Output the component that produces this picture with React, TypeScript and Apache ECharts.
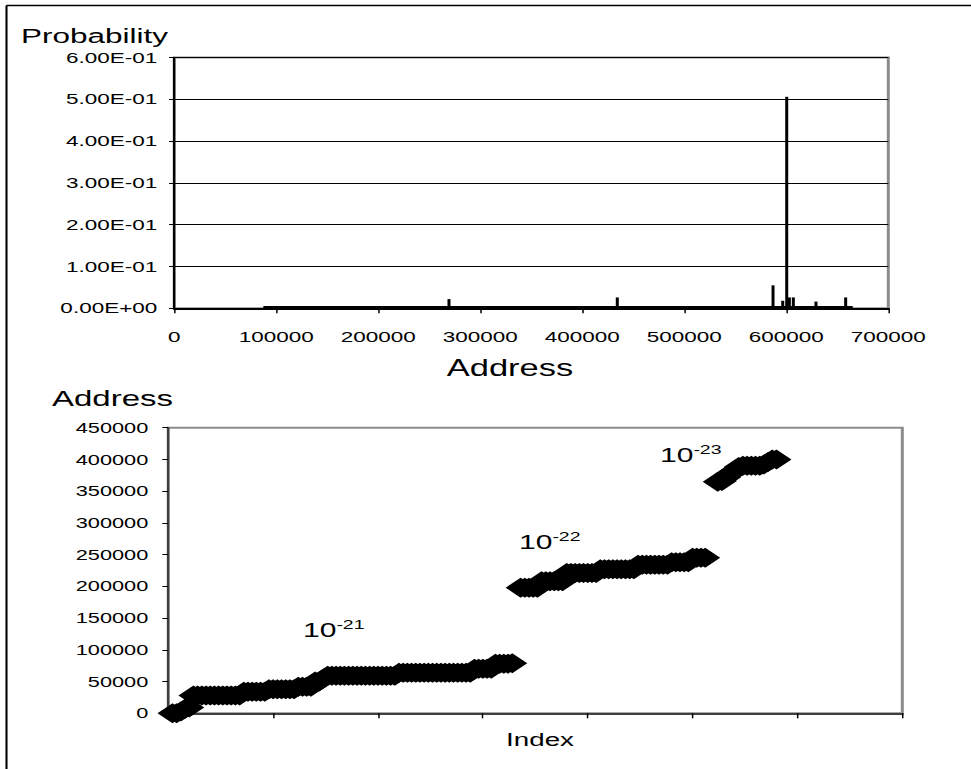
import React, { useEffect, useRef } from "react";
import * as echarts from "echarts";

// ---------- data ----------
const probTickLabels = ["0.00E+00", "1.00E-01", "2.00E-01", "3.00E-01", "4.00E-01", "5.00E-01", "6.00E-01"];
const spikeAddresses = [269300, 421600, 434300, 519000, 580800, 587000, 590600, 596500, 600400, 603000, 606900, 629100, 645100, 658200];
const spikeProbabilities = [0.022, 0.003, 0.026, 0.004, 0.004, 0.055, 0.003, 0.018, 0.506, 0.026, 0.026, 0.016, 0.004, 0.026];
const baselineAddresses = [87300, 665100];
const baselineProbabilities = [0.002, 0.002];

const cluster21Index = [
  4, 8, 12, 16, 20, 24, 28, 32, 36, 40, 44, 48, 52, 56, 60, 64, 68,
  72, 76, 80, 84, 88, 92, 96, 100, 104, 108, 112, 116, 120,
  124, 128, 132, 136, 140, 144, 148,
  152, 156, 160, 164, 168, 172, 176, 180, 184, 188, 192, 196, 200, 204, 208, 212, 216,
  220, 224, 228, 232, 236, 240, 244, 248, 252, 256, 260, 264, 268, 272, 276, 280, 284, 288,
  292, 296, 300, 304, 308, 312, 316, 320, 324, 328,
];
const cluster21Address = [
  0, 0, 3000, 7000, 9000, 28000, 28000, 28000, 28000, 28000, 28000, 28000, 28000, 28000, 28000, 28000, 28000,
  34000, 34000, 34000, 34000, 34000, 34000, 38000, 38000, 38000, 38000, 38000, 38000, 38000,
  42000, 42000, 42000, 42000, 50000, 50000, 55000,
  59000, 59000, 59000, 59000, 59000, 59000, 59000, 59000, 59000, 59000, 59000, 59000, 59000, 59000, 59000, 59000, 59000,
  64000, 64000, 64000, 64000, 64000, 64000, 64000, 64000, 64000, 64000, 64000, 64000, 64000, 64000, 64000, 64000, 64000, 64000,
  70000, 70000, 70000, 70000, 70000, 78000, 78000, 78000, 78000, 79000,
];
const cluster22Index = [
  336, 340, 344, 348, 352, 356, 360, 364, 368, 372, 376,
  380, 384, 388, 392, 396, 400, 404, 408, 412, 416, 420, 424, 428, 432, 436, 440, 444,
  448, 452, 456, 460, 464, 468, 472, 476, 480, 484, 488, 492, 496, 500, 504, 508, 512,
];
const cluster22Address = [
  198000, 198000, 198000, 198000, 198000, 208000, 208000, 208000, 208000, 208000, 208000,
  221000, 221000, 221000, 221000, 221000, 221000, 221000, 221000, 227000, 227000, 227000, 227000, 227000, 227000, 227000, 227000, 227000,
  234000, 234000, 234000, 234000, 234000, 234000, 234000, 234000, 238000, 238000, 238000, 238000, 238000, 245000, 245000, 245000, 245000,
];
const cluster23Index = [524, 528, 532, 536, 540, 544, 548, 552, 556, 560, 564, 568, 572, 576, 580];
const cluster23Address = [365000, 366000, 372000, 378000, 382000, 388000, 390000, 390000, 390000, 390000, 390000, 392000, 396000, 400000, 400000];

const clusterLabels = ["-21", "-22", "-23"];

// ---------- layout helpers ----------
const S = 971 / 647; // horizontal stretch of the picture
const LW = 647;
const L = (v: number) => v / S;
const FONT = "'Liberation Sans', Arial, Helvetica, sans-serif";

function buildOption(): any {
  const scatterData: number[][] = [];
  cluster21Index.forEach((x, i) => scatterData.push([x, cluster21Address[i]]));
  cluster22Index.forEach((x, i) => scatterData.push([x, cluster22Address[i]]));
  cluster23Index.forEach((x, i) => scatterData.push([x, cluster23Address[i]]));

  const titleText = (text: string, x: number, y: number, size: number, align: string = "left") => ({
    type: "text",
    x,
    y,
    style: { text, fill: "#000", font: `${size}px ${FONT}`, align, verticalAlign: "top" },
  });
  const powerText = (exp: string, x: number, y: number) => ({
    type: "text",
    x,
    y,
    style: {
      text: `{b|10}{s|${exp}}`,
      fill: "#000",
      align: "left",
      verticalAlign: "top",
      rich: {
        b: { fontSize: 20, fontFamily: FONT, fill: "#000", lineHeight: 22, verticalAlign: "bottom" },
        s: { fontSize: 13, fontFamily: FONT, fill: "#000", lineHeight: 13, verticalAlign: "top" },
      },
    },
  });

  return {
    animation: false,
    backgroundColor: "#fff",
    textStyle: { fontFamily: FONT },
    grid: [
      { left: L(174.3), top: 57.5, width: L(888.3 - 174.3), height: 250.8, show: true, borderColor: "#8c8c8c", borderWidth: 2, containLabel: false },
      { left: L(168.3), top: 427.7, width: L(902.3 - 168.3), height: 285.6, show: true, borderColor: "#8c8c8c", borderWidth: 2, containLabel: false },
    ],
    xAxis: [
      {
        gridIndex: 0, type: "value", min: 0, max: 700000, interval: 100000,
        axisLine: { show: true, onZero: false, lineStyle: { color: "#000", width: 2 } },
        axisTick: { show: true, length: 5, lineStyle: { color: "#000", width: 1 } },
        axisLabel: { margin: 21, fontSize: 15, color: "#000", fontFamily: FONT, formatter: (v: number) => String(v) },
        splitLine: { show: false },
      },
      {
        gridIndex: 1, type: "value", min: 0, max: 700, interval: 100,
        axisLine: { show: true, onZero: false, lineStyle: { color: "#404040", width: 2 } },
        axisTick: { show: true, length: 5, lineStyle: { color: "#000", width: 1 } },
        axisLabel: { show: false },
        splitLine: { show: false },
      },
    ],
    yAxis: [
      {
        gridIndex: 0, type: "value", min: 0, max: 0.6, interval: 0.1,
        axisLine: { show: true, onZero: false, lineStyle: { color: "#000", width: 1.5 } },
        axisTick: { show: true, length: 3.5, lineStyle: { color: "#000", width: 1 } },
        axisLabel: {
          margin: L(17), fontSize: 15, color: "#000", fontFamily: FONT,
          formatter: (v: number) => probTickLabels[Math.round(v / 0.1)] ?? "",
        },
        splitLine: { show: true, lineStyle: { color: "#000", width: 1 } },
      },
      {
        gridIndex: 1, type: "value", min: 0, max: 450000, interval: 50000,
        axisLine: { show: true, onZero: false, lineStyle: { color: "#404040", width: 1.5 } },
        axisTick: { show: true, length: 4, lineStyle: { color: "#000", width: 1 } },
        axisLabel: { margin: L(20), fontSize: 14.5, color: "#000", fontFamily: FONT, formatter: (v: number) => String(v) },
        splitLine: { show: false },
      },
    ],
    series: [
      {
        type: "line", xAxisIndex: 0, yAxisIndex: 0,
        data: baselineAddresses.map((a, i) => [a, baselineProbabilities[i]]),
        symbol: "none", lineStyle: { color: "#000", width: 3 }, z: 3,
      },
      {
        type: "bar", xAxisIndex: 0, yAxisIndex: 0,
        data: spikeAddresses.map((a, i) => [a, spikeProbabilities[i]]),
        barWidth: 2, itemStyle: { color: "#000" }, z: 4,
      },
      {
        type: "scatter", xAxisIndex: 1, yAxisIndex: 1,
        data: scatterData, symbol: "diamond", symbolSize: [20, 20],
        itemStyle: { color: "#000", opacity: 1 },
      },
    ],
    graphic: [
      { type: "line", shape: { x1: L(6.5), y1: 5.5, x2: L(6.5), y2: 769 }, style: { stroke: "#000", lineWidth: 1.4 } },
      { type: "line", shape: { x1: L(6.5), y1: 5.5, x2: LW, y2: 5.5 }, style: { stroke: "#000", lineWidth: 1.5 } },
      titleText("Probability", L(21), 25, 21),
      titleText("Address", L(510), 356, 23, "center"),
      titleText("Address", L(52), 388, 22),
      titleText("Index", L(540), 730, 18.5, "center"),
      powerText(clusterLabels[0], L(303), 618),
      powerText(clusterLabels[1], L(519), 530),
      powerText(clusterLabels[2], L(660), 443),
    ],
  };
}

export default function App() {
  const ref = useRef<HTMLDivElement>(null);
  useEffect(() => {
    document.body.style.margin = "0";
    const chart = echarts.init(ref.current as HTMLDivElement, null, { renderer: "svg" });
    chart.setOption(buildOption());
    return () => chart.dispose();
  }, []);
  return (
    <div style={{ position: "absolute", left: 0, top: 0, width: 971, height: 769, overflow: "hidden", background: "#fff" }}>
      <div
        ref={ref}
        style={{ width: LW, height: 769, transform: `scaleX(${S})`, transformOrigin: "0 0" }}
      />
    </div>
  );
}
